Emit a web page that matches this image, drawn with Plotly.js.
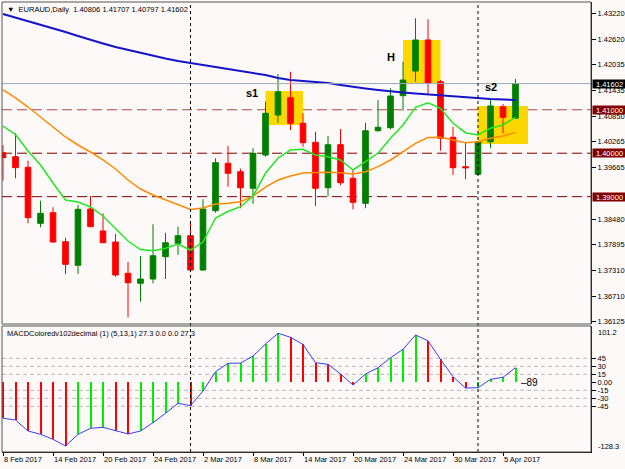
<!DOCTYPE html>
<html><head><meta charset="utf-8">
<script src="https://cdn.plot.ly/plotly-3.0.1.min.js"></script>
<style>html,body{margin:0;padding:0;background:#fdf9f8;} #chart{width:625px;height:469px;}</style>
</head><body><div id="chart"></div>
<script>
const dates = ['2017-02-08','2017-02-09','2017-02-10','2017-02-13','2017-02-14','2017-02-15','2017-02-16','2017-02-17','2017-02-20','2017-02-21','2017-02-22','2017-02-23','2017-02-24','2017-02-27','2017-02-28','2017-03-01','2017-03-02','2017-03-03','2017-03-06','2017-03-07','2017-03-08','2017-03-09','2017-03-10','2017-03-13','2017-03-14','2017-03-15','2017-03-16','2017-03-17','2017-03-20','2017-03-21','2017-03-22','2017-03-23','2017-03-24','2017-03-27','2017-03-28','2017-03-29','2017-03-30','2017-03-31','2017-04-03','2017-04-04','2017-04-05','2017-04-06'];
const openP  = [1.40012,1.39920,1.39676,1.38387,1.38631,1.37963,1.37420,1.38716,1.38210,1.37956,1.37236,1.37006,1.37105,1.37618,1.37927,1.38102,1.37312,1.38677,1.39768,1.39575,1.39192,1.39959,1.40879,1.41278,1.40688,1.40251,1.39206,1.40196,1.39423,1.38847,1.40518,1.40587,1.41324,1.41892,1.42606,1.41646,1.40366,1.39690,1.39515,1.40265,1.41070,1.40806];
const highP  = [1.40189,1.40458,1.39828,1.38907,1.38755,1.38055,1.38808,1.39015,1.38617,1.38141,1.37496,1.37634,1.38364,1.38170,1.38309,1.38387,1.38939,1.39883,1.40166,1.39644,1.40113,1.41186,1.41823,1.41876,1.40919,1.40495,1.40396,1.40557,1.39614,1.40702,1.41225,1.41494,1.42106,1.43105,1.43082,1.41685,1.40610,1.40242,1.40280,1.41225,1.41133,1.41707];
const lowP   = [1.39367,1.39423,1.38387,1.38295,1.37940,1.37220,1.37220,1.38300,1.37930,1.37158,1.36223,1.36583,1.37006,1.37105,1.37657,1.37300,1.37296,1.38631,1.39229,1.38732,1.38831,1.39920,1.40700,1.40534,1.40150,1.38785,1.39015,1.39268,1.38709,1.38732,1.40495,1.40550,1.40978,1.41646,1.41356,1.40058,1.39499,1.39400,1.39500,1.40113,1.40458,1.40797];
const closeP = [1.39897,1.39667,1.38516,1.38617,1.37956,1.37443,1.38709,1.38309,1.37940,1.37197,1.37020,1.37105,1.37641,1.37940,1.38102,1.37312,1.38716,1.39782,1.39538,1.39206,1.39998,1.40919,1.41416,1.40688,1.40242,1.39192,1.40196,1.39321,1.38870,1.40518,1.40596,1.41317,1.41685,1.42606,1.41609,1.40343,1.39667,1.39665,1.40265,1.41087,1.40826,1.41602];
const maSlow = [1.43204,1.43123,1.43043,1.42951,1.42870,1.42790,1.42698,1.42606,1.42525,1.42444,1.42375,1.42306,1.42237,1.42180,1.42122,1.42069,1.42030,1.41984,1.41938,1.41892,1.41846,1.41800,1.41731,1.41685,1.41662,1.41639,1.41616,1.41570,1.41524,1.41489,1.41455,1.41420,1.41397,1.41374,1.41351,1.41328,1.41305,1.41282,1.41259,1.41248,1.41236,1.41225];
const maMid  = [1.41455,1.41271,1.41063,1.40833,1.40603,1.40373,1.40189,1.40028,1.39844,1.39637,1.39383,1.39176,1.39038,1.38923,1.38820,1.38705,1.38739,1.38831,1.38847,1.38884,1.39015,1.39222,1.39383,1.39475,1.39545,1.39556,1.39561,1.39551,1.39522,1.39574,1.39690,1.39844,1.40035,1.40228,1.40362,1.40366,1.40304,1.40242,1.40265,1.40343,1.40396,1.40481];
const maFast = [1.40626,1.40431,1.40051,1.39729,1.39314,1.38923,1.38877,1.38762,1.38555,1.38256,1.37979,1.37784,1.37756,1.37811,1.37910,1.37772,1.37956,1.38509,1.38658,1.38769,1.39015,1.39538,1.39890,1.40074,1.40090,1.39959,1.39920,1.39844,1.39614,1.39805,1.39998,1.40343,1.40649,1.41057,1.41162,1.41034,1.40688,1.40472,1.40419,1.40573,1.40649,1.40826];
const macdHist = [-67.5,-70.7,-91.3,-97.5,-106.9,-119.4,-97.5,-86.3,-84.4,-91.3,-96.9,-91.3,-75.7,-58.1,-39.4,-43.8,-16.3,19.9,35.6,36.0,49.3,71.8,91.9,84.4,71.0,36.8,33.7,15.6,-5.1,15.6,27.4,46.1,61.9,88.7,78.0,43.1,10.5,-10.7,-10.2,5.6,9.4,27.3];
const tickDates  = ['2017-02-08','2017-02-14','2017-02-20','2017-02-24','2017-03-02','2017-03-08','2017-03-14','2017-03-20','2017-03-24','2017-03-30','2017-04-05'];
const tickLabels = ['8 Feb 2017','14 Feb 2017','20 Feb 2017','24 Feb 2017','2 Mar 2017','8 Mar 2017','14 Mar 2017','20 Mar 2017','24 Mar 2017','30 Mar 2017','5 Apr 2017'];
const priceTicks = [1.43220,1.42620,1.42035,1.41435,1.40850,1.40265,1.39665,1.38480,1.37895,1.37310,1.36710,1.36125];
const levelPrices = [1.41000,1.40000,1.39000];
const lastPrice = 1.41602;
const macdTicks = [45,30,15,0,-15,-30,-45];
const macdTickLabels = ['45','30','15','0.00','-15','-30','-45'];
const macdLevels = [45,30,15,-15,-30,-45];
const macdMax = 101.2, macdMin = -128.3;
const separatorDates = ['2017-03-01','2017-04-03'];
const zoneLabels = ['s1','H','s2'];
const zoneStart = ['2017-03-09','2017-03-24','2017-04-03'];
const zoneBars = [3,3,4];
const zoneHigh = [1.41432,1.42606,1.41087];
const zoneLow  = [1.40649,1.41609,1.40212];
const headerText = '▼  EURAUD,Daily  1.40806 1.41707 1.40797 1.41602';
const macdHeader = 'MACDColoredv102decimal (1) (5,13,1) 27.3 0.0 0.0 27.3';
const markText = '–89';

const FONT = '"Liberation Sans", Arial, sans-serif';
const FS = 7.5;
const BG = '#fdf9f8';
const idx = d => dates.indexOf(d);

const histColors = macdHist.map((v,i)=> (i>0 && v>=macdHist[i-1]) ? '#00ee00' : '#ff0000');

const traces = [
  {type:'candlestick', x:dates, open:openP, high:highP, low:lowP, close:closeP, xaxis:'x', yaxis:'y',
   increasing:{line:{color:'#008000',width:1}, fillcolor:'#008000'},
   decreasing:{line:{color:'#ff0000',width:1}, fillcolor:'#ff0000'},
   whiskerwidth:0, hoverinfo:'skip', showlegend:false},
  {type:'scatter', mode:'lines', x:dates, y:maSlow, line:{color:'#1414c8',width:2}, xaxis:'x', yaxis:'y', hoverinfo:'skip'},
  {type:'scatter', mode:'lines', x:dates, y:maMid, line:{color:'#ff8a00',width:1.5}, xaxis:'x', yaxis:'y', hoverinfo:'skip'},
  {type:'scatter', mode:'lines', x:dates, y:maFast, line:{color:'#22e622',width:1.5}, xaxis:'x', yaxis:'y', hoverinfo:'skip'},
  {type:'bar', x:dates, y:macdHist, width:0.16, marker:{color:histColors, line:{width:0}}, xaxis:'x', yaxis:'y2', hoverinfo:'skip'},
  {type:'scatter', mode:'lines', x:dates, y:macdHist, line:{color:'#3c3cff',width:1}, xaxis:'x', yaxis:'y2', hoverinfo:'skip'}
];

const shapes = [];
zoneLabels.forEach((z,i)=>{
  const s = idx(zoneStart[i]);
  shapes.push({type:'rect', xref:'x', yref:'y', x0:s, x1:s+zoneBars[i], y0:zoneLow[i], y1:zoneHigh[i], fillcolor:'#ffd700', line:{width:0}, layer:'below'});
});
levelPrices.forEach((p,i)=>{
  shapes.push({type:'line', xref:'paper', yref:'y', x0:0, x1:1, y0:p, y1:p, line:{color: i===0 ? '#a84848' : '#7a0000', width:1, dash:'10px,5px'}, layer:'below'});
});
shapes.push({type:'line', xref:'paper', yref:'y', x0:0, x1:1, y0:lastPrice, y1:lastPrice, line:{color:'#a0a8b4', width:1}});
macdLevels.forEach(v=>{
  shapes.push({type:'line', xref:'paper', yref:'y2', x0:0, x1:1, y0:v, y1:v, line:{color:'#b8b8b8', width:1, dash:'4px,3px'}, layer:'below'});
});
separatorDates.forEach(d=>{
  shapes.push({type:'line', xref:'x', yref:'paper', x0:idx(d), x1:idx(d), y0:0, y1:1, line:{color:'#000', width:1, dash:'dot'}});
});
shapes.push({type:'rect', xref:'paper', yref:'paper', x0:0, x1:1, y0:0.2844, y1:1, line:{color:'#555', width:1}});
shapes.push({type:'rect', xref:'paper', yref:'paper', x0:0, x1:1, y0:0, y1:0.28, line:{color:'#555', width:1}});

const ann = [];
const smallFont = {family:FONT, size:FS, color:'#000'};
ann.push({xref:'paper', yref:'paper', x:0, y:1, xanchor:'left', yanchor:'top', xshift:3, yshift:-1, showarrow:false, text:headerText, font:smallFont});
ann.push({xref:'paper', yref:'paper', x:0, y:0.28, xanchor:'left', yanchor:'top', xshift:3, yshift:-1, showarrow:false, text:macdHeader, font:smallFont});
ann.push({xref:'paper', yref:'paper', x:1, y:0.28, xanchor:'left', yanchor:'top', xshift:5, yshift:0, showarrow:false, text:String(macdMax), font:smallFont});
ann.push({xref:'paper', yref:'paper', x:1, y:0, xanchor:'left', yanchor:'bottom', xshift:5, yshift:-1, showarrow:false, text:String(macdMin), font:smallFont});
// pattern labels
const labelPos = [[19.9,1.41397],[31.0,1.42214],[39.0,1.41517]];
zoneLabels.forEach((z,i)=>{
  ann.push({xref:'x', yref:'y', x:labelPos[i][0], y:labelPos[i][1], showarrow:false, text:'<b>'+z+'</b>', font:{family:FONT, size:11, color:'#000'}});
});
// price boxes
[[lastPrice,'#000000']].concat(levelPrices.map(p=>[p,'#800000'])).forEach(([p,c])=>{
  ann.push({xref:'paper', yref:'y', x:1, y:p, xanchor:'left', xshift:1, showarrow:false, text:p.toFixed(5), bgcolor:c, borderpad:0, width:33, height:8, align:'center', valign:'middle', font:{family:FONT, size:FS, color:'#fff'}});
});
ann.push({xref:'x', yref:'y2', x:41, y:0, xanchor:'left', xshift:3, showarrow:false, text:markText, font:{family:FONT, size:10, color:'#000'}});

const axisCommon = {showgrid:false, zeroline:false, showline:true, linecolor:'#000', linewidth:1, ticks:'outside', ticklen:4, tickcolor:'#000', fixedrange:true, tickfont:smallFont};

const layout = {
  width:625, height:469,
  margin:{l:2, r:34, t:2, b:17, pad:0},
  paper_bgcolor:BG, plot_bgcolor:BG,
  showlegend:false, bargap:0,
  boxgap:0.36,
  font:smallFont,
  xaxis:Object.assign({}, axisCommon, {type:'category', anchor:'y2', domain:[0,1], range:[-0.08,47.04], tickvals:tickDates, ticktext:tickLabels, ticklabelposition:'outside right', tickangle:0, ticklen:3, rangeslider:{visible:false}}),
  yaxis:Object.assign({}, axisCommon, {domain:[0.2844,1], range:[1.36069,1.4348], side:'right', anchor:'x', tickvals:priceTicks, ticktext:priceTicks.map(v=>v.toFixed(5))}),
  yaxis2:Object.assign({}, axisCommon, {domain:[0,0.28], range:[-130.7,105.6], side:'right', anchor:'x', tickvals:macdTicks, ticktext:macdTickLabels}),
  shapes:shapes,
  annotations:ann
};
Plotly.newPlot('chart', traces, layout, {staticPlot:true, displayModeBar:false});
</script></body></html>
